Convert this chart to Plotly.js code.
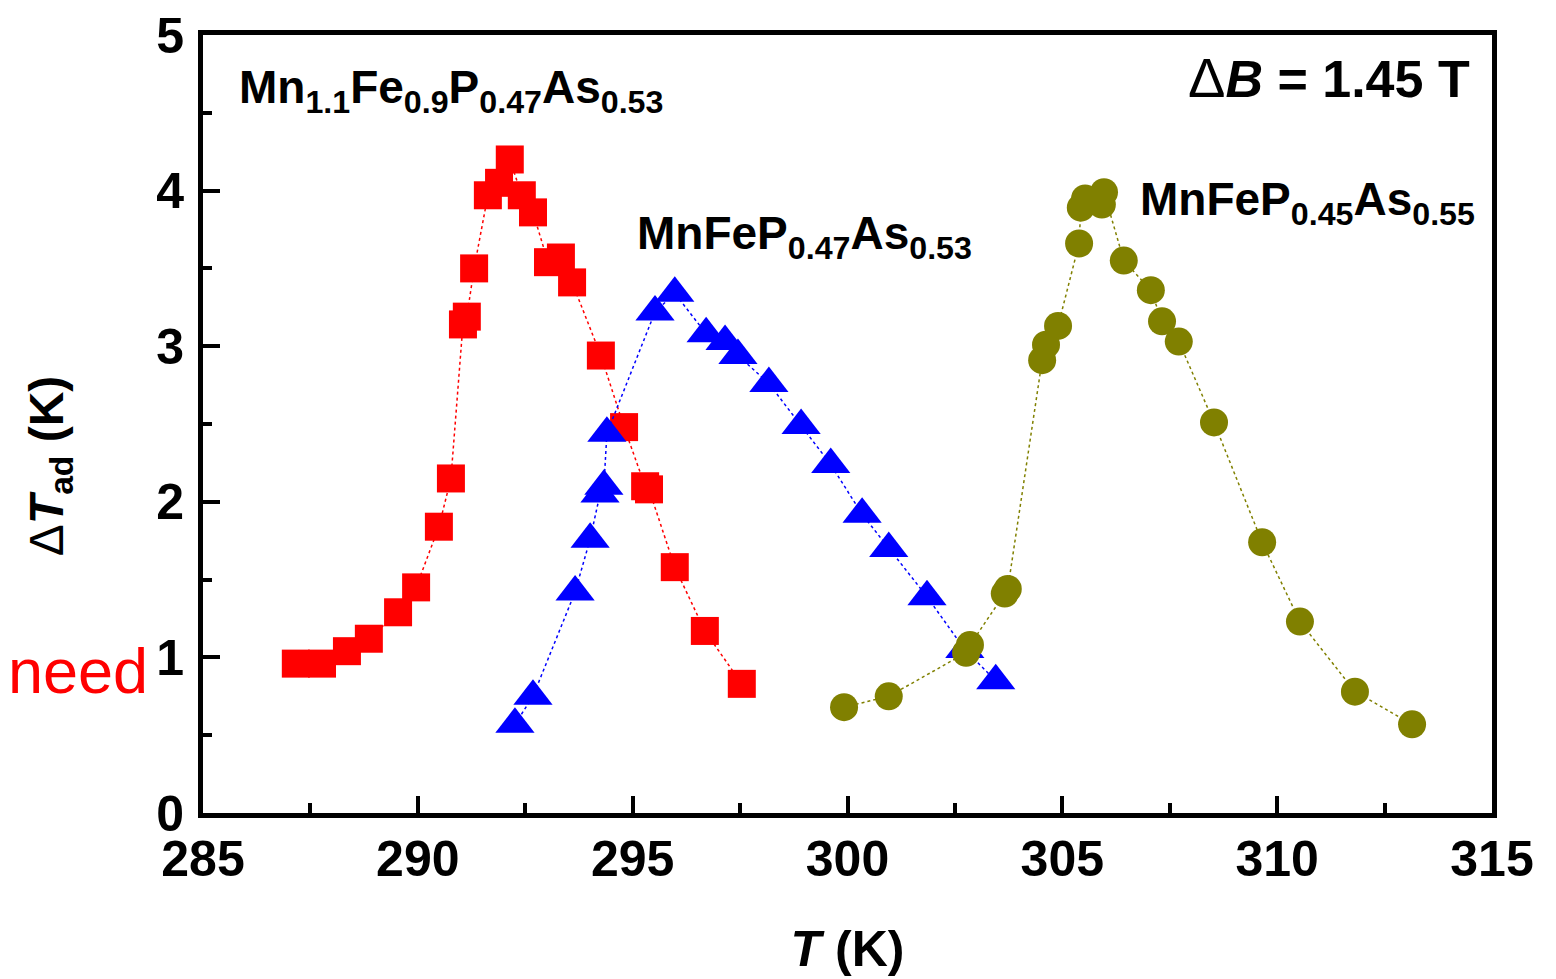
<!DOCTYPE html>
<html><head><meta charset="utf-8">
<script src="https://cdn.plot.ly/plotly-3.0.1.min.js"></script>
<style>body{margin:0;background:#fff}</style></head>
<body><div id="chart" style="width:1556px;height:979px"></div>
<script>
// Mn1.1Fe0.9P0.47As0.53 (red squares)
const redT  = [287.16,287.77,288.35,288.86,289.54,289.96,290.49,290.77,291.05,291.14,291.31,291.63,291.89,292.14,292.42,292.68,293.03,293.33,293.59,294.26,294.80,295.29,295.38,295.98,296.68,297.54];
const redDT = [0.96,0.96,1.04,1.12,1.29,1.45,1.84,2.15,3.14,3.19,3.50,3.97,4.05,4.20,3.97,3.86,3.54,3.57,3.41,2.94,2.48,2.10,2.08,1.58,1.17,0.83];
// MnFeP0.47As0.53 (blue triangles)
const blueT  = [292.26,292.68,293.66,294.01,294.24,294.33,294.40,295.52,295.98,296.71,297.15,297.45,298.17,298.92,299.61,300.34,300.96,301.85,302.73,303.45];
const blueDT = [0.57,0.75,1.42,1.76,2.05,2.10,2.44,3.22,3.34,3.08,3.03,2.94,2.76,2.49,2.24,1.92,1.70,1.39,1.05,0.85];
// MnFeP0.45As0.55 (olive circles)
const oliveT  = [299.92,300.96,302.76,302.85,303.66,303.73,304.53,304.62,304.90,305.39,305.43,305.53,305.92,305.97,306.43,307.06,307.32,307.71,308.53,309.65,310.53,311.81,313.14];
const oliveDT = [0.68,0.75,1.03,1.08,1.41,1.44,2.91,3.01,3.13,3.66,3.89,3.95,3.91,3.99,3.55,3.36,3.16,3.03,2.51,1.74,1.23,0.78,0.57];

const xTicks = [285,290,295,300,305,310,315];
const yTicks = [0,1,2,3,4,5];

const FONT = 'Liberation Sans, Arial, sans-serif';

const traces = [
  {x: redT, y: redDT, mode: 'lines+markers', name: 'Mn1.1Fe0.9P0.47As0.53',
   line: {color: '#ff0000', width: 1.5, dash: 'dot'},
   marker: {symbol: 'square', size: 28, color: '#ff0000'}},
  {x: blueT, y: blueDT, mode: 'lines+markers', name: 'MnFeP0.47As0.53',
   line: {color: '#0000ff', width: 1.5, dash: 'dot'},
   marker: {symbol: 'triangle-up', size: 34, color: '#0000ff'}},
  {x: oliveT, y: oliveDT, mode: 'lines+markers', name: 'MnFeP0.45As0.55',
   line: {color: '#808000', width: 1.5, dash: 'dot'},
   marker: {symbol: 'circle', size: 28, color: '#808000'}}
];

const axisCommon = {
  showgrid: false, zeroline: false, showline: true, linecolor: '#000', linewidth: 5,
  mirror: true, ticks: 'inside', ticklen: 17, tickwidth: 4, tickcolor: '#000',
  tickfont: {family: FONT, size: 50, color: '#000', weight: 'bold'}
};

const layout = {
  width: 1556, height: 979,
  margin: {l: 203, r: 64, t: 35, b: 166},
  paper_bgcolor: '#fff', plot_bgcolor: '#fff',
  showlegend: false,
  font: {family: FONT, color: '#000'},
  xaxis: Object.assign({}, axisCommon, {
    range: [285, 315], tickvals: xTicks, ticktext: xTicks.map(String),
    ticklabelstandoff: -2,
    minor: {ticks: 'inside', ticklen: 10, tickwidth: 4, tickcolor: '#000', dtick: 2.5, showgrid: false},
    title: {text: '<b><i>T</i> (K)</b>', font: {family: FONT, size: 50, color: '#000'}, standoff: 46}
  }),
  yaxis: Object.assign({}, axisCommon, {
    range: [0, 5], tickvals: yTicks, ticktext: yTicks.map(String),
    ticklabelstandoff: 4,
    minor: {ticks: 'inside', ticklen: 9, tickwidth: 4, tickcolor: '#000', dtick: 0.5, showgrid: false}
  }),
  annotations: [
    {xref: 'paper', yref: 'paper', x: 0.0264, y: 0.929, xanchor: 'left', yanchor: 'middle', showarrow: false,
     text: '<b>Mn<sub>1.1</sub>Fe<sub>0.9</sub>P<sub>0.47</sub>As<sub>0.53</sub></b>',
     font: {family: FONT, size: 46, color: '#000'}},
    {xref: 'paper', yref: 'paper', x: 0.335, y: 0.741, xanchor: 'left', yanchor: 'middle', showarrow: false,
     text: '<b>MnFeP<sub>0.47</sub>As<sub>0.53</sub></b>',
     font: {family: FONT, size: 46, color: '#000'}},
    {xref: 'paper', yref: 'paper', x: 0.725, y: 0.785, xanchor: 'left', yanchor: 'middle', showarrow: false,
     text: '<b>MnFeP<sub>0.45</sub>As<sub>0.55</sub></b>',
     font: {family: FONT, size: 46, color: '#000'}},
    {xref: 'paper', yref: 'paper', x: 0.9845, y: 0.945, xanchor: 'right', yanchor: 'middle', showarrow: false,
     text: '<span style="font-size:56px">Δ</span><b><i>B</i> = 1.45 T</b>',
     font: {family: FONT, size: 52, color: '#000'}},
    {xref: 'paper', yref: 'paper', x: -0.153, y: 0.183, xanchor: 'left', yanchor: 'middle', showarrow: false,
     text: 'need',
     font: {family: FONT, size: 63, color: '#ff0000'}},
    {xref: 'paper', yref: 'paper', x: -0.1187, y: 0.447, xanchor: 'center', yanchor: 'middle', showarrow: false,
     textangle: -90,
     text: 'Δ<b><i>T</i><sub>ad</sub> (K)</b>',
     font: {family: FONT, size: 48, color: '#000'}}
  ]
};

Plotly.newPlot('chart', traces, layout, {displayModeBar: false, staticPlot: true});
</script>
</body></html>
